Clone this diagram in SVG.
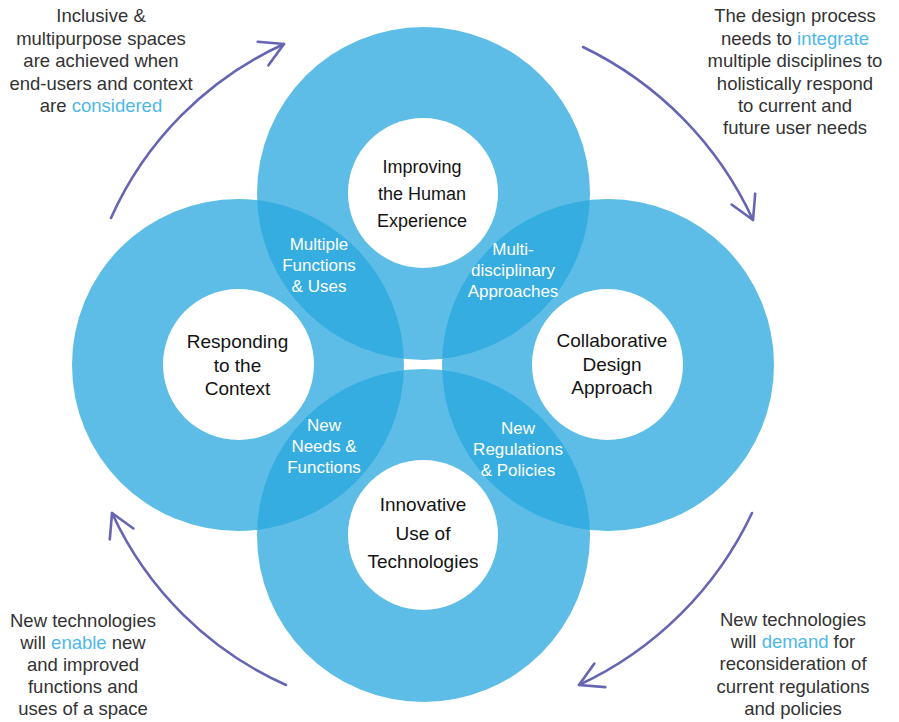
<svg xmlns="http://www.w3.org/2000/svg" width="899" height="722" viewBox="0 0 899 722">
<style>
.blue{fill:#2AA8DE;fill-opacity:0.76}
.hole{fill:#ffffff}
.node{font-family:"Liberation Sans",Arial,sans-serif;fill:#141414;text-anchor:middle}
.lens{font-family:"Liberation Sans",Arial,sans-serif;fill:#ffffff;font-size:17px;text-anchor:middle}
.note{font-family:"Liberation Sans",Arial,sans-serif;fill:#333333;font-size:18.5px;text-anchor:middle}
.hl{fill:#4DB8E8}
.arc{fill:none;stroke:#6565B3;stroke-width:2.6;stroke-linecap:round}
</style>
<defs>
<marker id="head" markerUnits="userSpaceOnUse" markerWidth="40" markerHeight="40" viewBox="-30 -20 40 40" refX="0" refY="0" orient="auto">
<path d="M-23,-13 L0,0 L-23,13" fill="none" stroke="#6565B3" stroke-width="2.6" stroke-linecap="round" stroke-linejoin="round"/>
</marker>
</defs>
<g id="node-top">
<circle class="blue" cx="423.5" cy="193.5" r="166.5"/>
<circle class="hole" cx="423" cy="193" r="75"/>
<text class="node" font-size="18" x="422"><tspan x="422" y="173">Improving</tspan><tspan x="422" y="200">the Human</tspan><tspan x="422" y="227">Experience</tspan></text>
</g>
<g id="node-left">
<circle class="blue" cx="238" cy="365" r="166"/>
<circle class="hole" cx="238.5" cy="364.5" r="75.5"/>
<text class="node" font-size="19"><tspan x="237.5" y="348">Responding</tspan><tspan x="237.5" y="372">to the</tspan><tspan x="237.5" y="395">Context</tspan></text>
</g>
<g id="node-right">
<circle class="blue" cx="608" cy="365" r="166"/>
<circle class="hole" cx="607.5" cy="364.5" r="75.5"/>
<text class="node" font-size="19"><tspan x="612" y="347">Collaborative</tspan><tspan x="612" y="371">Design</tspan><tspan x="612" y="394">Approach</tspan></text>
</g>
<g id="node-bottom">
<circle class="blue" cx="423.5" cy="535.5" r="166.5"/>
<circle class="hole" cx="423" cy="535" r="75"/>
<text class="node" font-size="19"><tspan x="423" y="511">Innovative</tspan><tspan x="423" y="540">Use of</tspan><tspan x="423" y="568">Technologies</tspan></text>
</g>
<g id="overlap-labels">
<text class="lens"><tspan x="319" y="250">Multiple</tspan><tspan x="319" y="271">Functions</tspan><tspan x="319" y="292">&amp; Uses</tspan></text>
<text class="lens"><tspan x="513" y="255">Multi-</tspan><tspan x="513" y="276">disciplinary</tspan><tspan x="513" y="297">Approaches</tspan></text>
<text class="lens"><tspan x="324" y="431">New</tspan><tspan x="324" y="452">Needs &amp;</tspan><tspan x="324" y="473">Functions</tspan></text>
<text class="lens"><tspan x="518" y="434">New</tspan><tspan x="518" y="455">Regulations</tspan><tspan x="518" y="476">&amp; Policies</tspan></text>
</g>
<g id="connectors">
<path class="arc" d="M111,218 A347,347 0 0 1 284,44" marker-end="url(#head)"/>
<path class="arc" d="M583,47 A358,358 0 0 1 753,220" marker-end="url(#head)"/>
<path class="arc" d="M752,513 A358,358 0 0 1 579,685" marker-end="url(#head)"/>
<path class="arc" d="M286,685 A347,347 0 0 1 112,513" marker-end="url(#head)"/>
</g>
<g id="notes">
<text class="note"><tspan x="101" y="22">Inclusive &amp;</tspan><tspan x="101" y="44.5">multipurpose spaces</tspan><tspan x="101" y="67">are achieved when</tspan><tspan x="101" y="89.5">end-users and context</tspan><tspan x="101" y="112">are <tspan class="hl">considered</tspan></tspan></text>
<text class="note"><tspan x="795" y="22">The design process</tspan><tspan x="795" y="45">needs to <tspan class="hl">integrate</tspan></tspan><tspan x="795" y="67">multiple disciplines to</tspan><tspan x="795" y="90">holistically respond</tspan><tspan x="795" y="112">to current and</tspan><tspan x="795" y="134">future user needs</tspan></text>
<text class="note"><tspan x="83" y="627">New technologies</tspan><tspan x="83" y="649">will <tspan class="hl">enable</tspan> new</tspan><tspan x="83" y="671">and improved</tspan><tspan x="83" y="693">functions and</tspan><tspan x="83" y="715">uses of a space</tspan></text>
<text class="note"><tspan x="793" y="626">New technologies</tspan><tspan x="793" y="648">will <tspan class="hl">demand</tspan> for</tspan><tspan x="793" y="670">reconsideration of</tspan><tspan x="793" y="693">current regulations</tspan><tspan x="793" y="715">and policies</tspan></text>
</g>
</svg>
